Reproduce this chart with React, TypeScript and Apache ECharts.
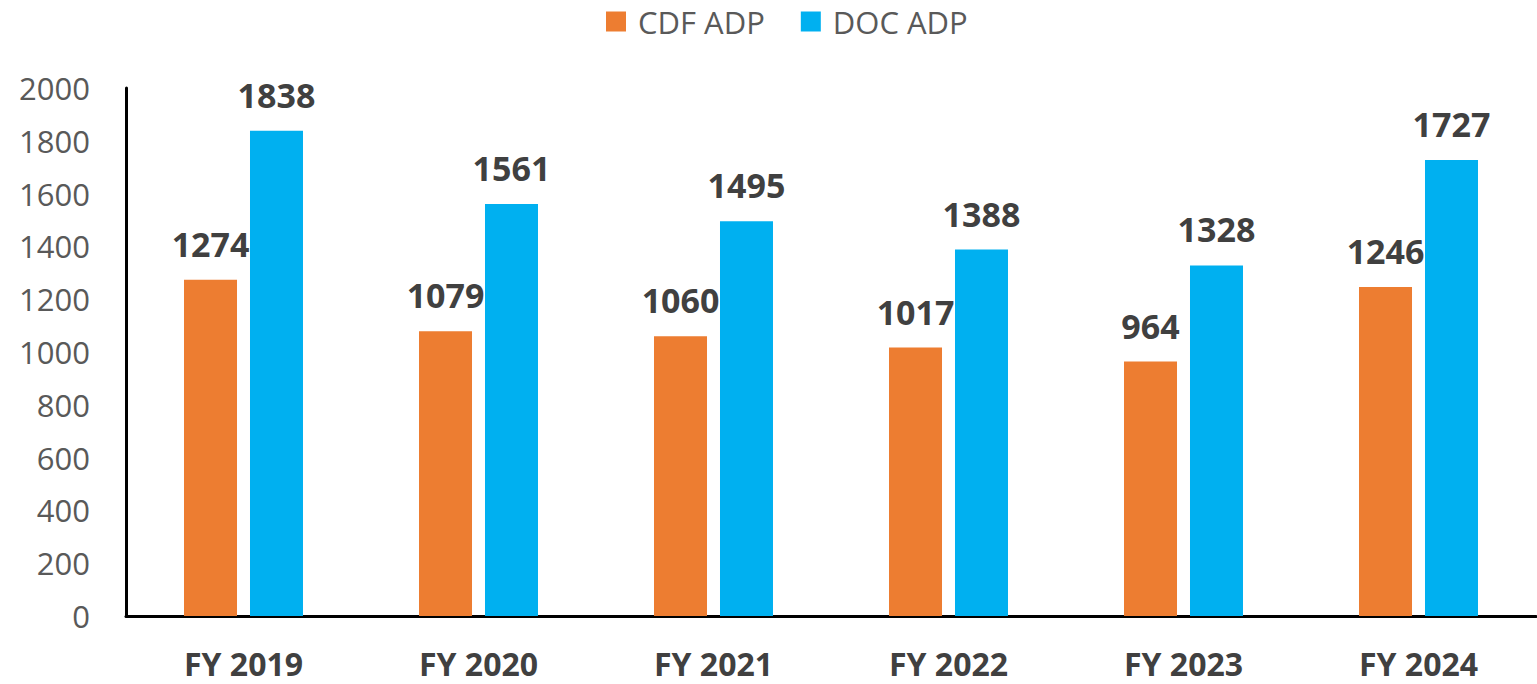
import React, { useEffect, useRef } from "react";
import * as echarts from "echarts";

const categories = ["FY 2019", "FY 2020", "FY 2021", "FY 2022", "FY 2023", "FY 2024"];
const cdfAdp = [1274, 1079, 1060, 1017, 964, 1246];
const docAdp = [1838, 1561, 1495, 1388, 1328, 1727];
const seriesNames = ["CDF ADP", "DOC ADP"];

const FONT = "'Open Sans', 'Noto Sans', sans-serif";

export default function App() {
  const ref = useRef<HTMLDivElement>(null);
  useEffect(() => {
    if (!ref.current) return;
    const chart = echarts.init(ref.current, undefined, { renderer: "svg" });
    const label = {
      show: true,
      position: "top" as const,
      distance: 19,
      color: "#404040",
      fontFamily: FONT,
      fontWeight: "bold" as const,
      fontSize: 34,
    };
    chart.setOption({
      animation: false,
      legend: {
        top: 1,
        left: 601,
        itemWidth: 20,
        itemHeight: 20,
        itemGap: 36,
        icon: "rect",
        textStyle: { color: "#595959", fontFamily: FONT, fontSize: 31, padding: [0, 0, 0, 7] },
        data: seriesNames,
      },
      grid: { left: 126, right: 1, top: 88, bottom: 68, containLabel: false },
      xAxis: {
        type: "category",
        data: categories,
        axisLine: { show: true, lineStyle: { color: "#000", width: 3 } },
        axisTick: { show: false },
        axisLabel: {
          color: "#404040",
          fontFamily: FONT,
          fontWeight: "bold",
          fontSize: 32,
          margin: 31,
        },
      },
      yAxis: {
        type: "value",
        min: 0,
        max: 2000,
        interval: 200,
        axisLine: { show: true, lineStyle: { color: "#000", width: 3 } },
        axisTick: { show: false },
        splitLine: { show: false },
        axisLabel: {
          color: "#595959",
          fontFamily: FONT,
          fontSize: 31,
          margin: 36,
          formatter: (v: number) => String(v),
        },
      },
      series: [
        {
          name: seriesNames[0],
          type: "bar",
          data: cdfAdp,
          barWidth: 53,
          barGap: "24.5%",
          itemStyle: { color: "#ED7D31" },
          label,
        },
        {
          name: seriesNames[1],
          type: "bar",
          data: docAdp,
          barWidth: 53,
          barGap: "24.5%",
          itemStyle: { color: "#00B0F0" },
          label,
        },
      ],
    });
    return () => chart.dispose();
  }, []);
  return (
    <div
      ref={ref}
      style={{ position: "fixed", left: 0, top: 0, width: 1537, height: 684, background: "#fff" }}
    />
  );
}
